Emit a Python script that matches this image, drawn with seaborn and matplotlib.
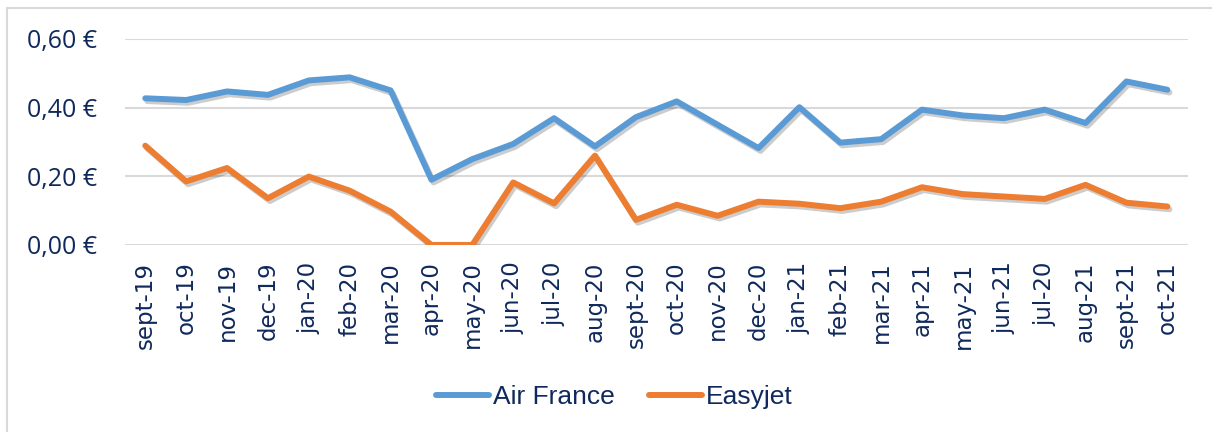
import pandas as pd
import matplotlib.pyplot as plt
import matplotlib.patheffects as pe
from matplotlib.patches import FancyBboxPatch
import seaborn as sns

# ---------------------------
# Data
# ---------------------------
months = ["sept-19", "oct-19", "nov-19", "dec-19", "jan-20", "feb-20", "mar-20",
          "apr-20", "may-20", "jun-20", "jul-20", "aug-20", "sept-20", "oct-20",
          "nov-20", "dec-20", "jan-21", "feb-21", "mar-21", "apr-21", "may-21",
          "jun-21", "jul-20", "aug-21", "sept-21", "oct-21"]

air_france = [0.427, 0.422, 0.447, 0.437, 0.479, 0.488, 0.450,
              0.190, 0.250, 0.294, 0.369, 0.287, 0.372, 0.418,
              0.350, 0.282, 0.401, 0.298, 0.308, 0.394, 0.377,
              0.369, 0.394, 0.355, 0.476, 0.452]

easyjet = [0.289, 0.185, 0.224, 0.136, 0.199, 0.158, 0.097,
           0.000, 0.000, 0.182, 0.121, 0.260, 0.073, 0.117,
           0.085, 0.126, 0.120, 0.107, 0.126, 0.168, 0.148,
           0.141, 0.134, 0.175, 0.123, 0.112]

series_names = ["Air France", "Easyjet"]
colors = ["#5B9BD5", "#ED7D31"]
text_color = "#10295c"

# long format for seaborn (numeric x because "jul-20" appears twice)
df = pd.DataFrame({
    "idx": list(range(len(months))) * 2,
    "price": air_france + easyjet,
    "airline": [series_names[0]] * len(months) + [series_names[1]] * len(months),
})

# ---------------------------
# Plot
# ---------------------------
sns.set_style("white")
plt.rcParams['font.family'] = ['DejaVu Sans']

fig = plt.figure(figsize=(12.12, 4.32), dpi=100)
ax = fig.add_axes([0.103, 0.433, 0.877, 0.477])

# light grey frame around the chart
fig.patches.append(FancyBboxPatch((7 / 1212, -0.05), 1.05, 0.05 + (424 / 432),
                                  boxstyle="square,pad=0", transform=fig.transFigure,
                                  fill=False, edgecolor="#d9d9d9", linewidth=1.5))

sns.lineplot(data=df, x="idx", y="price", hue="airline", palette=colors,
             linewidth=4.3, ax=ax, legend=False)

for line in ax.get_lines():
    line.set_solid_capstyle("round")
    line.set_solid_joinstyle("round")
    line.set_path_effects([pe.SimpleLineShadow(offset=(1.5, -2), alpha=0.2, shadow_color="k"),
                           pe.Normal()])

ax.set_xlim(-0.5, len(months) - 0.5)
ax.set_ylim(0, 0.6)
ax.set_yticks([0, 0.2, 0.4, 0.6])
ax.set_yticklabels(["0,00 €", "0,20 €", "0,40 €", "0,60 €"],
                   fontsize=18, color=text_color, family="Open Sans")
ax.set_xticks(range(len(months)))
ax.set_xticklabels(months, rotation=90, fontsize=16.5, color=text_color)
ax.tick_params(axis="y", length=0, pad=20)
ax.tick_params(axis="x", length=0, pad=12)
ax.set_xlabel("")
ax.set_ylabel("")

ax.grid(axis="y", color="#d9d9d9", linewidth=1.5)
ax.set_axisbelow(True)
for s in ax.spines.values():
    s.set_visible(False)

# legend at bottom
handles = [plt.Line2D([], [], color=c, linewidth=4.3, solid_capstyle="round") for c in colors]
fig.legend(handles, series_names, loc="center", bbox_to_anchor=(0.507, 0.081), ncol=2,
           frameon=False, handlelength=2.0, handletextpad=0.15, columnspacing=1.3,
           prop={"family": "Liberation Sans", "size": 19}, labelcolor=text_color)

plt.savefig("out.png", dpi=100)
plt.close()
